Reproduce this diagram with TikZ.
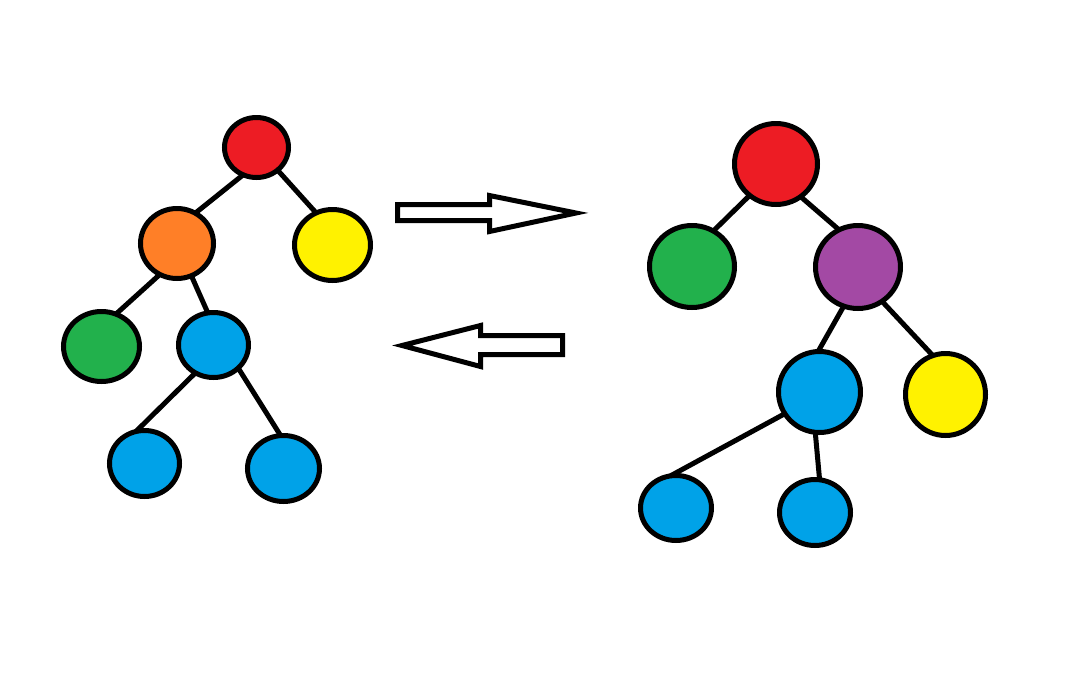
\documentclass[tikz,border=0pt]{standalone}
\usetikzlibrary{shapes.geometric}
\definecolor{pred}{HTML}{ED1C24}
\definecolor{porange}{HTML}{FF7F27}
\definecolor{pyellow}{HTML}{FFF200}
\definecolor{pgreen}{HTML}{22B14C}
\definecolor{pblue}{HTML}{00A2E8}
\definecolor{ppurple}{HTML}{A349A4}
\tikzset{
  treenode/.style={ellipse, draw=black, line width=5pt, inner sep=0pt, outer sep=0pt},
  edge/.style={draw=black, line width=5pt},
  blockarrow/.style={draw=black, fill=white, line width=5pt, line join=miter}
}
\begin{document}
\begin{tikzpicture}[x=1pt,y=-1pt]
\useasboundingbox (0,0) rectangle (1077,686);
\fill[white] (0,0) rectangle (1077,686);
% left tree
\node[treenode, fill=pred, minimum width=64pt, minimum height=60pt] (lr) at (256.5,147.5) {};
\node[treenode, fill=porange, minimum width=73pt, minimum height=70pt] (lo) at (177,243.5) {};
\node[treenode, fill=pyellow, minimum width=76pt, minimum height=71pt] (ly) at (332.5,245) {};
\node[treenode, fill=pgreen, minimum width=76pt, minimum height=70pt] (lg) at (101.5,346.5) {};
\node[treenode, fill=pblue, minimum width=70pt, minimum height=65pt] (lb) at (213.5,345) {};
\node[treenode, fill=pblue, minimum width=70pt, minimum height=66pt] (lbl) at (144.5,463.5) {};
\node[treenode, fill=pblue, minimum width=72pt, minimum height=66pt] (lbr) at (283.5,468.5) {};
\draw[edge] (lr.-116) -- (lo.59);
\draw[edge] (lr.-47) -- (ly.117);
\draw[edge] (lo.-119) -- (lg.66);
\draw[edge] (lo.-66) -- (lb.100);
\draw[edge] (lb.-123) -- (lbl.105);
\draw[edge] (lb.-43) -- (lbr.95);
% right tree
\node[treenode, fill=pred, minimum width=83pt, minimum height=81pt] (rr) at (776,164) {};
\node[treenode, fill=pgreen, minimum width=85pt, minimum height=82pt] (rg) at (692,266.5) {};
\node[treenode, fill=ppurple, minimum width=85pt, minimum height=83pt] (rp) at (858,267) {};
\node[treenode, fill=pblue, minimum width=82pt, minimum height=81pt] (rb) at (819.5,392) {};
\node[treenode, fill=pyellow, minimum width=80pt, minimum height=82pt] (ry) at (945.5,394.5) {};
\node[treenode, fill=pblue, minimum width=71pt, minimum height=65pt] (rbl) at (676,508) {};
\node[treenode, fill=pblue, minimum width=71pt, minimum height=66pt] (rbr) at (815,512.5) {};
\draw[edge] (rr.-130) -- (rg.59);
\draw[edge] (rr.-53) -- (rp.117);
\draw[edge] (rp.-110) -- (rb.92);
\draw[edge] (rp.-55) -- (ry.108);
\draw[edge] (rb.-148) -- (rbl.100);
\draw[edge] (rb.-96) -- (rbr.82);
% arrows
\draw[blockarrow] (397.5,204.5) -- (489.5,204.5) -- (489.5,195.5) -- (576,213) -- (489.5,231.5) -- (489.5,220.5) -- (397.5,220.5) -- cycle;
\draw[blockarrow] (562.5,335.5) -- (480.5,335.5) -- (480.5,325.5) -- (402,345.5) -- (480.5,366.5) -- (480.5,354.5) -- (562.5,354.5) -- cycle;
\end{tikzpicture}
\end{document}
